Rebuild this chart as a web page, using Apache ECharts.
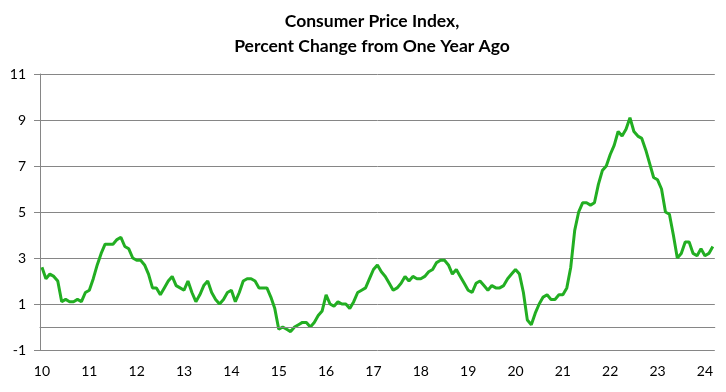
<!DOCTYPE html>
<html><head><meta charset="utf-8">
<script src="https://cdn.jsdelivr.net/npm/echarts@6/dist/echarts.min.js"></script>
<style>html,body{margin:0;padding:0;background:#fff}#c{width:726px;height:392px}</style>
</head><body><div id="c"></div>
<script>
// Year tick labels (one per January, 2010..2024)
const yearLabels = ["10","11","12","13","14","15","16","17","18","19","20","21","22","23","24"];
// CPI, % change from one year ago, monthly Jan 2010 - Mar 2024
const cpi2010 = [2.6,2.1,2.3,2.2,2.0,1.1,1.2,1.1,1.1,1.2,1.1,1.5];
const cpi2011 = [1.6,2.1,2.7,3.2,3.6,3.6,3.6,3.8,3.9,3.5,3.4,3.0];
const cpi2012 = [2.9,2.9,2.7,2.3,1.7,1.7,1.4,1.7,2.0,2.2,1.8,1.7];
const cpi2013 = [1.6,2.0,1.5,1.1,1.4,1.8,2.0,1.5,1.2,1.0,1.2,1.5];
const cpi2014 = [1.6,1.1,1.5,2.0,2.1,2.1,2.0,1.7,1.7,1.7,1.3,0.8];
const cpi2015 = [-0.1,0.0,-0.1,-0.2,0.0,0.1,0.2,0.2,0.0,0.2,0.5,0.7];
const cpi2016 = [1.4,1.0,0.9,1.1,1.0,1.0,0.8,1.1,1.5,1.6,1.7,2.1];
const cpi2017 = [2.5,2.7,2.4,2.2,1.9,1.6,1.7,1.9,2.2,2.0,2.2,2.1];
const cpi2018 = [2.1,2.2,2.4,2.5,2.8,2.9,2.9,2.7,2.3,2.5,2.2,1.9];
const cpi2019 = [1.6,1.5,1.9,2.0,1.8,1.6,1.8,1.7,1.7,1.8,2.1,2.3];
const cpi2020 = [2.5,2.3,1.5,0.3,0.1,0.6,1.0,1.3,1.4,1.2,1.2,1.4];
const cpi2021 = [1.4,1.7,2.6,4.2,5.0,5.4,5.4,5.3,5.4,6.2,6.8,7.0];
const cpi2022 = [7.5,7.9,8.5,8.3,8.6,9.1,8.5,8.3,8.2,7.7,7.1,6.5];
const cpi2023 = [6.4,6.0,5.0,4.9,4.0,3.0,3.2,3.7,3.7,3.2,3.1,3.4];
const cpi2024 = [3.1,3.2,3.5];

const values = [].concat(cpi2010,cpi2011,cpi2012,cpi2013,cpi2014,cpi2015,cpi2016,
  cpi2017,cpi2018,cpi2019,cpi2020,cpi2021,cpi2022,cpi2023,cpi2024);
const months = values.map((v,i)=> (2010+Math.floor(i/12)) + '-' + String(i%12+1).padStart(2,'0'));

const gray = '#868686';
const font = 'Lato, "Open Sans", sans-serif';
const chart = echarts.init(document.getElementById('c'), null, {renderer:'canvas'});
chart.setOption({
  animation:false,
  backgroundColor:'#fff',
  title:{
    text:'Consumer Price Index,\nPercent Change from One Year Ago',
    left:367, top:4, textAlign:'center',
    textStyle:{fontFamily:font, fontSize:17.5, fontWeight:'bold', color:'#000', lineHeight:25}
  },
  grid:{left:40, top:74, width:674.8, height:276, containLabel:false},
  xAxis:{
    type:'category', data:months, boundaryGap:true,
    axisLine:{show:true, lineStyle:{color:gray, width:1}},
    axisTick:{show:false},
    axisLabel:{
      interval:(idx)=> idx%12===0,
      formatter:(val,idx)=> yearLabels[Math.floor(idx/12)],
      fontFamily:font, fontSize:14, color:'#000', margin:14
    },
    splitLine:{show:false}
  },
  yAxis:{
    type:'value', min:-1, max:11, interval:2,
    axisLine:{show:true, lineStyle:{color:gray, width:1}},
    axisTick:{show:true, length:6, inside:false, lineStyle:{color:gray}},
    axisLabel:{fontFamily:font, fontSize:14, color:'#000', margin:14},
    splitLine:{show:true, lineStyle:{color:gray, width:1}}
  },
  series:[{
    type:'line', data:values, symbol:'none', smooth:false,
    lineStyle:{color:'#22AE22', width:3},
    markLine:{
      silent:true, symbol:['none','none'], label:{show:false},
      lineStyle:{color:gray, width:1, type:'solid'},
      data:[{yAxis:0}]
    },
    z:3
  }]
});
</script></body></html>
